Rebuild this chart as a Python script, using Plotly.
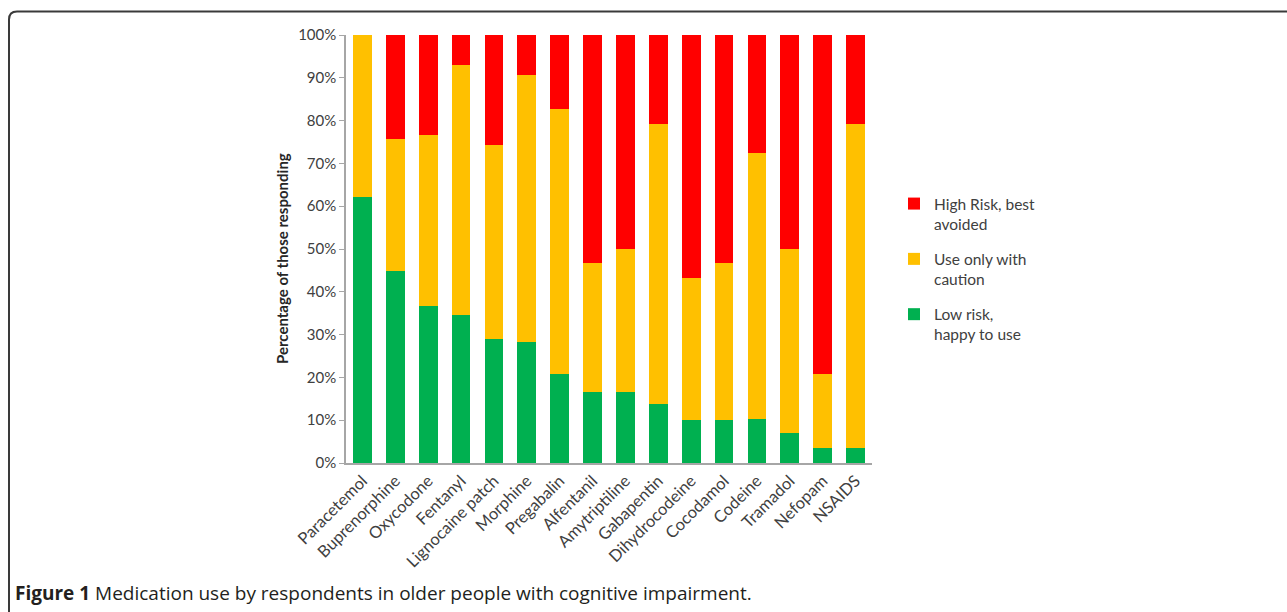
import plotly.graph_objects as go

medications = ["Paracetemol", "Buprenorphine", "Oxycodone", "Fentanyl", "Lignocaine patch",
               "Morphine", "Pregabalin", "Alfentanil", "Amytriptiline", "Gabapentin",
               "Dihydrocodeine", "Cocodamol", "Codeine", "Tramadol", "Nefopam", "NSAIDS"]
low_risk = [62.1, 44.8, 36.6, 34.5, 29.0, 28.2, 20.7, 16.7, 16.7, 13.8,
            10.0, 10.0, 10.3, 7.1, 3.5, 3.5]
caution = [37.9, 31.0, 40.0, 58.6, 45.2, 62.5, 62.1, 30.0, 33.3, 65.5,
           33.3, 36.7, 62.1, 42.9, 17.2, 75.8]
high_risk = [0.0, 24.2, 23.4, 6.9, 25.8, 9.3, 17.2, 53.3, 50.0, 20.7,
             56.7, 53.3, 27.6, 50.0, 79.3, 20.7]
series_names = ["Low risk,<br>happy to use", "Use only with<br>caution", "High Risk, best<br>avoided"]
series_colors = ["#00B050", "#FFC000", "#FF0000"]
y_ticks = list(range(0, 101, 10))
y_tick_labels = [f"{v}%" for v in y_ticks]
y_title = "Percentage of those responding"
caption_bold = "Figure 1"
caption_text = " Medication use by respondents in older people with cognitive impairment."

W, H = 1287, 612
ML, MR, MT, MB = 346, 415, 35, 149
PW, PH = W - ML - MR, H - MT - MB

def px(x):
    return (x - ML) / PW

def py(y):
    return (H - MB - y) / PH

fig = go.Figure()
for i, (name, vals, col) in enumerate(zip(series_names, [low_risk, caution, high_risk], series_colors)):
    fig.add_trace(go.Bar(x=medications, y=vals, name=name, marker_color=col,
                         marker_line_width=0, legendgroup=name,
                         legendrank=1000 - i))

fig.update_layout(
    width=W, height=H,
    margin=dict(l=ML, r=MR, t=MT, b=MB, autoexpand=False),
    barmode="stack", bargap=0.43,
    plot_bgcolor="white", paper_bgcolor="white",
    font=dict(family="Lato", size=15, color="#404040"),
    showlegend=True,
    legend=dict(x=px(894), y=py(187), xanchor="left", yanchor="top",
                traceorder="grouped", valign="top", tracegroupgap=12,
                font=dict(family="Lato", size=15.5, color="#404040")),
    xaxis=dict(tickangle=-45, showline=True, linecolor="#A6A6A6", linewidth=1.5,
               ticks="", showgrid=False, tickfont=dict(size=16.5, color="#404040")),
    yaxis=dict(range=[0, 100], tickvals=y_ticks, ticktext=y_tick_labels,
               showline=True, linecolor="#A6A6A6", linewidth=1.5, ticks="outside",
               ticklen=5, tickcolor="#A6A6A6", showgrid=False, zeroline=False,
               tickfont=dict(size=15, color="#404040")),
)

fig.add_annotation(xref="paper", yref="paper", x=px(282), y=py(259), xanchor="center", yanchor="middle",
                   showarrow=False, textangle=-90, text=f"<b>{y_title}</b>",
                   font=dict(family="Lato", size=15, color="#262626"))

fig.add_annotation(xref="paper", yref="paper", x=px(13), y=py(593), xanchor="left", yanchor="middle",
                   showarrow=False, text=f"<b>{caption_bold}</b>{caption_text}",
                   font=dict(family="Open Sans", size=19, color="#231F20"))

r = 8
x0, y0 = px(9), py(11.5)
x1, y1 = px(1290), py(620)
path = (f"M {x0} {y1} L {x0} {py(11.5 + r)} Q {x0} {y0} {px(9 + r)} {y0} L {x1} {y0}")
fig.add_shape(type="path", xref="paper", yref="paper", path=path,
              line=dict(color="#3A3A3A", width=2))

fig.write_html("out.html")
